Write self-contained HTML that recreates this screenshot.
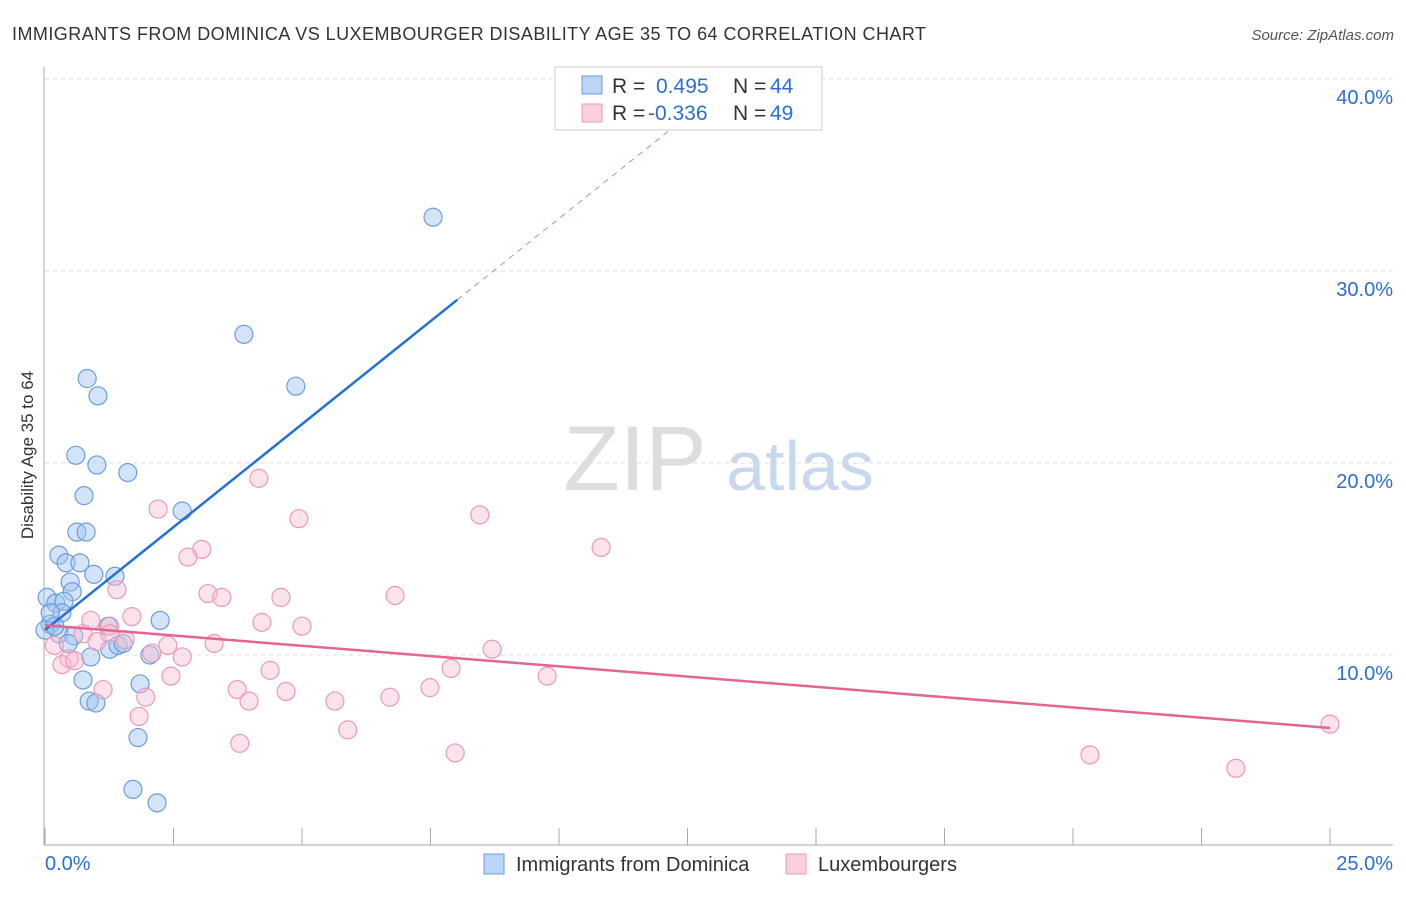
<!DOCTYPE html>
<html><head><meta charset="utf-8"><style>
body{margin:0;background:#fff;font-family:"Liberation Sans",sans-serif}
svg text{font-family:"Liberation Sans",sans-serif}
</style></head><body>
<svg id="chart" width="1406" height="892">
<text x="12" y="40" font-size="18" fill="#333" textLength="914">IMMIGRANTS FROM DOMINICA VS LUXEMBOURGER DISABILITY AGE 35 TO 64 CORRELATION CHART</text>
<text x="1394" y="40" font-size="15" fill="#555" text-anchor="end" font-style="italic">Source: ZipAtlas.com</text>
<g><text x="635" y="490" font-size="92" fill="#ddd" font-family="Liberation Serif" text-anchor="middle">ZIP</text><text x="800" y="490" font-size="70" fill="#c8d8ef" text-anchor="middle">atlas</text></g>
<g id="grid"></g><g id="axes"></g><g id="marks"></g>
<text transform="translate(33,455) rotate(-90)" font-size="17" fill="#333" text-anchor="middle">Disability Age 35 to 64</text>
<g>
<rect x="555" y="67" width="267" height="63" fill="#fff" stroke="#ccc"/>
<rect x="582" y="76" width="20" height="18" fill="#bcd4f5" stroke="#6a9de0"/>
<rect x="582" y="104" width="20" height="18" fill="#fbd0de" stroke="#ea9ab5"/>
<text x="612" y="93" font-size="21" fill="#333">R = </text><text x="656" y="93" font-size="21" fill="#2c6fd1">0.495</text>
<text x="733" y="93" font-size="21" fill="#333">N = </text><text x="770" y="93" font-size="21" fill="#2c6fd1">44</text>
<text x="612" y="120" font-size="21" fill="#333">R = </text><text x="648" y="120" font-size="21" fill="#2c6fd1">-0.336</text>
<text x="733" y="120" font-size="21" fill="#333">N = </text><text x="770" y="120" font-size="21" fill="#2c6fd1">49</text>
</g>
<g>
<rect x="484" y="854" width="20" height="20" fill="#bcd4f5" stroke="#6a9de0"/>
<text x="516" y="871" font-size="20" fill="#333">Immigrants from Dominica</text>
<rect x="786" y="854" width="20" height="20" fill="#fbd0de" stroke="#ea9ab5"/>
<text x="818" y="871" font-size="20" fill="#333">Luxembourgers</text>
</g>
</svg>
<script>
const yTicks=[10,20,30,40];
const yTickLabels=["10.0%","20.0%","30.0%","40.0%"];
const xTicks=[0,2.5,5,7.5,10,12.5,15,17.5,20,22.5,25];
const blueX=[7.55,3.87,4.88,0.82,1.03,0.60,1.01,1.61,0.76,2.67,0.62,0.80,0.27,0.41,0.68,0.95,1.36,0.49,0.53,0.04,0.21,0.37,0.33,2.24,0.10,0.27,0.56,1.23,1.26,1.42,1.52,0.89,2.04,0.74,1.85,0.86,0.99,1.81,1.71,2.18,0.10,0.0,0.19,0.45];
const blueY=[32.8,26.7,24.0,24.4,23.5,20.4,19.9,19.5,18.3,17.5,16.4,16.4,15.2,14.8,14.8,14.2,14.1,13.8,13.3,13.0,12.7,12.8,12.2,11.8,11.6,11.1,11.0,11.5,10.3,10.5,10.6,9.9,10.0,8.7,8.5,7.6,7.5,5.7,3.0,2.3,12.2,11.3,11.5,10.6];
const pinkX=[4.16,2.20,4.94,8.46,10.82,3.05,2.78,3.17,3.44,1.40,4.59,6.81,1.69,0.89,4.22,5.00,1.26,0.74,1.56,2.39,3.29,8.70,2.08,2.67,0.47,0.33,0.58,4.38,7.90,2.45,9.77,3.74,4.69,1.13,1.96,3.97,5.64,6.71,7.49,1.83,5.89,3.79,7.98,20.33,23.17,25.0,0.18,1.01,1.26];
const pinkY=[19.2,17.6,17.1,17.3,15.6,15.5,15.1,13.2,13.0,13.4,13.0,13.1,12.0,11.8,11.7,11.5,11.5,11.1,10.8,10.5,10.6,10.3,10.1,9.9,9.8,9.5,9.7,9.2,9.3,8.9,8.9,8.2,8.1,8.2,7.8,7.6,7.6,7.8,8.3,6.8,6.1,5.4,4.9,4.8,4.1,6.4,10.5,10.7,11.1];
const blueLine=[[0,11.3],[8.02,28.5]];
const blueDash=[[8.02,28.5],[13.4,40]];
const pinkLine=[[0,11.55],[25,6.2]];
const NS="http://www.w3.org/2000/svg";
const xs=v=>45+v*51.4, ys=v=>847-v*19.2;
function mk(t,a,p){const e=document.createElementNS(NS,t);for(const k in a)e.setAttribute(k,a[k]);p.appendChild(e);return e;}
const grid=document.getElementById('grid'),axes=document.getElementById('axes'),marks=document.getElementById('marks');
yTicks.forEach((t,i)=>{
 const l=mk('line',{x1:45,x2:1393,y1:ys(t),y2:ys(t),stroke:'#ddd','stroke-dasharray':'4,4'},grid);
 
 
 const tx=mk('text',{x:1393,y:ys(t)+25,'font-size':20,fill:'#2c6fd1','text-anchor':'end'},axes);
 tx.textContent=yTickLabels[i];
 
 
});
let a=mk('line',{x1:44,x2:44,y1:67,y2:845,stroke:'#aaa'},axes);


a=mk('line',{x1:44,x2:1393,y1:845,y2:845,stroke:'#aaa'},axes);


xTicks.forEach(t=>{const l=mk('line',{x1:xs(t),x2:xs(t),y1:828,y2:845,stroke:'#aaa'},axes);
 
 });
let t1=mk('text',{x:45,y:870,'font-size':20,fill:'#2c6fd1'},axes);t1.textContent='0.0%';


t1=mk('text',{x:1393,y:870,'font-size':20,fill:'#2c6fd1','text-anchor':'end'},axes);t1.textContent='25.0%';


blueX.forEach((x,i)=>{const c=mk('circle',{cx:xs(x),cy:ys(blueY[i]),r:9,fill:'rgba(160,195,240,0.45)',stroke:'#6a9de0','stroke-width':1.2},marks);
 
 });
pinkX.forEach((x,i)=>{const c=mk('circle',{cx:xs(x),cy:ys(pinkY[i]),r:9,fill:'rgba(248,190,210,0.45)',stroke:'#ea9ab5','stroke-width':1.2},marks);
 
 });
let L=mk('line',{x1:xs(blueLine[0][0]),y1:ys(blueLine[0][1]),x2:xs(blueLine[1][0]),y2:ys(blueLine[1][1]),stroke:'#2270d8','stroke-width':2.5},marks);


L=mk('line',{x1:xs(blueDash[0][0]),y1:ys(blueDash[0][1]),x2:xs(blueDash[1][0]),y2:ys(blueDash[1][1]),stroke:'#7aa6e0','stroke-width':1,'stroke-dasharray':'6,5'},marks);


L=mk('line',{x1:xs(pinkLine[0][0]),y1:ys(pinkLine[0][1]),x2:xs(pinkLine[1][0]),y2:ys(pinkLine[1][1]),stroke:'#e46690','stroke-width':2.5},marks);


</script>
</body></html>
